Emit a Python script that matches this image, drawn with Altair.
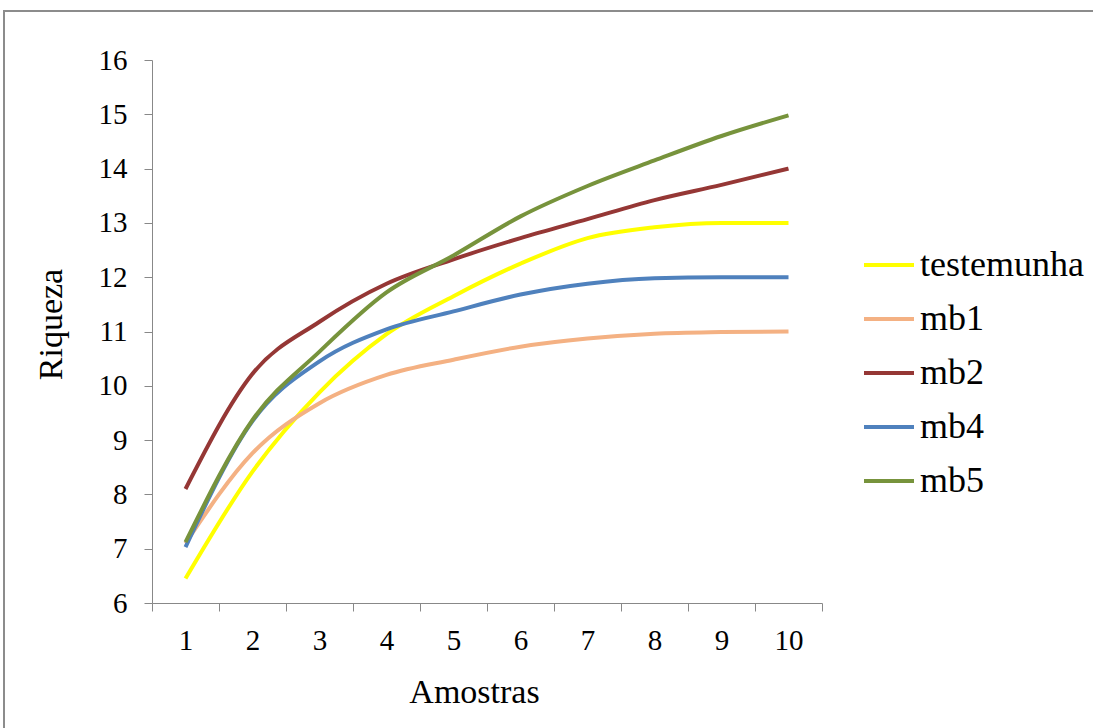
import altair as alt
import pandas as pd

amostras = [1, 2, 3, 4, 5, 6, 7, 8, 9, 10]
series_names = ["testemunha", "mb1", "mb2", "mb4", "mb5"]
testemunha = [6.45, 8.42, 9.88, 10.95, 11.65, 12.25, 12.72, 12.92, 13.0, 13.0]
mb1 = [7.1, 8.76, 9.68, 10.2, 10.48, 10.72, 10.87, 10.96, 10.99, 11.0]
mb2 = [8.1, 10.22, 11.18, 11.88, 12.33, 12.72, 13.07, 13.42, 13.7, 14.0]
mb4 = [7.03, 9.35, 10.45, 11.04, 11.37, 11.68, 11.88, 11.98, 12.0, 12.0]
mb5 = [7.12, 9.37, 10.63, 11.72, 12.4, 13.12, 13.68, 14.15, 14.6, 14.98]
colors = ["#FFFF00", "#F4B183", "#953735", "#4F81BD", "#77933C"]

rows = []
for name, vals in zip(series_names, [testemunha, mb1, mb2, mb4, mb5]):
    for a, v in zip(amostras, vals):
        rows.append({"Amostras": str(a), "Riqueza": v, "serie": name})
df = pd.DataFrame(rows)

FONT = "Liberation Serif, Times New Roman, serif"
W, H = 670, 543
PL, PT = 152, 60

lines = alt.Chart(df).mark_line(strokeWidth=4, interpolate="monotone").encode(
    x=alt.X("Amostras:N", sort=[str(a) for a in amostras],
            scale=alt.Scale(type="band", paddingInner=0, paddingOuter=0),
            axis=alt.Axis(title="Amostras", labelAngle=0, tickBand="extent",
                          labelFont=FONT, labelFontSize=29, labelColor="#000",
                          labelPadding=15, titleFont=FONT, titleFontSize=34,
                          titleFontWeight="normal", titleColor="#000", titlePadding=20,
                          titleX=322,
                          domainColor="#888", tickColor="#888", tickSize=8, grid=False)),
    y=alt.Y("Riqueza:Q", scale=alt.Scale(domain=[6, 16], nice=False, zero=False),
            axis=alt.Axis(title="Riqueza", values=list(range(6, 17)), format="d",
                          labelFont=FONT, labelFontSize=29, labelColor="#000",
                          labelPadding=17, titleFont=FONT, titleFontSize=34,
                          titleFontWeight="normal", titleColor="#000", titlePadding=30,
                          titleY=264,
                          domainColor="#888", tickColor="#888", tickSize=8, grid=False)),
    color=alt.Color("serie:N", sort=series_names,
                    scale=alt.Scale(domain=series_names, range=colors),
                    legend=alt.Legend(title=None, orient="none", legendX=710, legendY=178,
                                      symbolType="stroke", symbolSize=2500,
                                      symbolStrokeWidth=4, labelFont=FONT,
                                      labelFontSize=36, labelColor="#000",
                                      labelLimit=400,
                                      rowPadding=9, labelOffset=4)),
)

frame = alt.Chart(alt.Data(values=[{"a": 1}])).mark_rect(
    fill=None, stroke="#8c8c8c", strokeWidth=2
).encode(
    x=alt.value(4 - PL), x2=alt.value(1100 - PL),
    y=alt.value(11 - PT), y2=alt.value(740 - PT)
)

chart = alt.layer(frame, lines).properties(
    width=W, height=H,
    autosize=alt.AutoSizeParams(type="none"),
    padding={"left": PL, "top": PT, "right": 1093 - PL - W, "bottom": 728 - PT - H},
    background="white",
).configure(font=FONT).configure_view(stroke=None).configure_axis(
    labelFont=FONT, titleFont=FONT
).configure_legend(labelFont=FONT)

chart.save("out.html", embed_options={"renderer": "svg", "actions": False})
